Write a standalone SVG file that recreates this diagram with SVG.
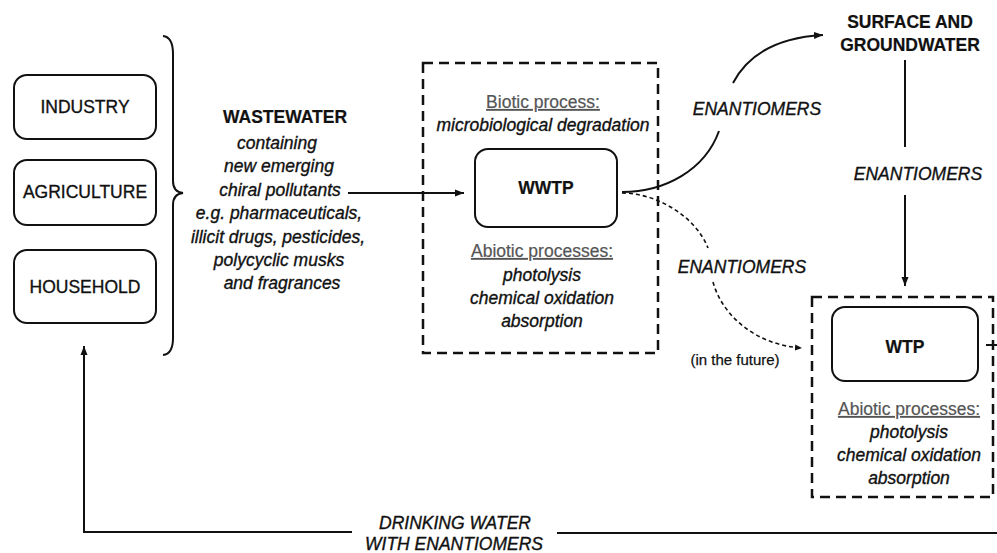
<svg xmlns="http://www.w3.org/2000/svg" width="997" height="553" viewBox="0 0 997 553">
<defs>
<marker id="arr" markerUnits="userSpaceOnUse" markerWidth="10" markerHeight="8" refX="9" refY="4" orient="auto"><path d="M0,0.5 L9,4 L0,7.5 z" fill="#111"/></marker>
<marker id="arrs" markerUnits="userSpaceOnUse" markerWidth="8" markerHeight="7" refX="7" refY="3.5" orient="auto"><path d="M0,0.5 L7,3.5 L0,6.5 z" fill="#111"/></marker>
<style>
text{font-family:"Liberation Sans",Arial,sans-serif;font-size:17.5px;fill:#111;stroke:#111;stroke-width:0.35;text-anchor:middle}
.b{font-weight:bold;stroke-width:0.2}
.i{font-style:italic}
.g{fill:#555;stroke:#555;stroke-width:0.2;text-decoration:underline}
.sm{font-size:15px;stroke-width:0.25}
.box{fill:none;stroke:#111;stroke-width:2}
.dbox{fill:none;stroke:#111;stroke-width:2.5;stroke-dasharray:10 6}
.ln{fill:none;stroke:#111;stroke-width:2}
.dl{fill:none;stroke:#111;stroke-width:1.6;stroke-dasharray:4 3}
</style>
</defs>
<rect width="997" height="553" fill="#fff"/>
<g id="industry"><rect class="box" x="14" y="75" width="142" height="64" rx="13"/><text x="85" y="113">INDUSTRY</text></g>
<g id="agriculture"><rect class="box" x="14" y="160" width="142" height="65" rx="13"/><text x="85" y="198">AGRICULTURE</text></g>
<g id="household"><rect class="box" x="14" y="250" width="142" height="73" rx="13"/><text x="85" y="293">HOUSEHOLD</text></g>
<g id="brace"><path class="ln" d="M163,36 Q173,37 173,54 L173,181 Q173,192 183,193 Q173,194 173,205 L173,338 Q173,354 163,355" stroke-width="1.8"/></g>
<g id="wastewater">
<text class="b" x="285" y="123">WASTEWATER</text>
<text class="i" x="277" y="149">containing</text>
<text class="i" x="279" y="172">new emerging</text>
<text class="i" x="280" y="196">chiral pollutants</text>
<text class="i" x="279" y="219">e.g. pharmaceuticals,</text>
<text class="i" x="278" y="243">illicit drugs, pesticides,</text>
<text class="i" x="279" y="266">polycyclic musks</text>
<text class="i" x="282" y="289">and fragrances</text>
</g>
<g id="wwtp-area">
<rect class="dbox" x="423" y="63" width="235" height="290"/>
<text class="g" x="543" y="108">Biotic process<tspan style="text-decoration:none">:</tspan></text>
<text class="i" x="543" y="131">microbiological degradation</text>
<text class="g" x="542" y="257">Abiotic processes:</text>
<text class="i" x="542" y="281">photolysis</text>
<text class="i" x="542" y="304">chemical oxidation</text>
<text class="i" x="542" y="327">absorption</text>
</g>
<g id="wwtp"><rect class="box" x="475" y="149" width="142" height="78" rx="13"/><text class="b" x="546" y="194">WWTP</text></g>
<g id="surface"><text class="b" x="910" y="28">SURFACE AND</text><text class="b" x="910" y="51">GROUNDWATER</text></g>
<g id="wtp-area">
<rect class="dbox" x="812" y="297" width="181" height="200"/>
<text class="g" x="909" y="415">Abiotic processes:</text>
<text class="i" x="909" y="438">photolysis</text>
<text class="i" x="909" y="461">chemical oxidation</text>
<text class="i" x="909" y="484">absorption</text>
</g>
<g id="wtp"><rect class="box" x="832" y="307" width="146" height="74" rx="13"/><text class="b" x="905" y="353">WTP</text></g>
<g id="connectors">
<path class="ln" d="M348,193 L464,193" marker-end="url(#arr)"/>
<path class="ln" d="M622,192 C665,192 705,170 719,131"/>
<path class="ln" d="M733,83 C745,60 770,38 823,35" marker-end="url(#arr)"/>
<path class="dl" d="M622,193 C655,193 695,215 708,248"/>
<path class="dl" d="M713,282 C722,315 755,345 802,348" marker-end="url(#arrs)"/>
<path class="ln" d="M905,60 L905,147"/>
<path class="ln" d="M905,195 L905,286" marker-end="url(#arr)"/>
<path class="ln" d="M986,345 L997,345"/>
<path class="ln" d="M997,533 L557,533"/>
<path class="ln" d="M352,532 L84,532 L84,346" marker-end="url(#arr)"/>
<text class="i" x="757" y="115">ENANTIOMERS</text>
<text class="i" x="918" y="180">ENANTIOMERS</text>
<text class="i" x="742" y="273">ENANTIOMERS</text>
<text class="sm" x="735" y="365">(in the future)</text>
<text class="i" x="455" y="529">DRINKING WATER</text>
<text class="i" x="454" y="550">WITH ENANTIOMERS</text>
</g>
</svg>
